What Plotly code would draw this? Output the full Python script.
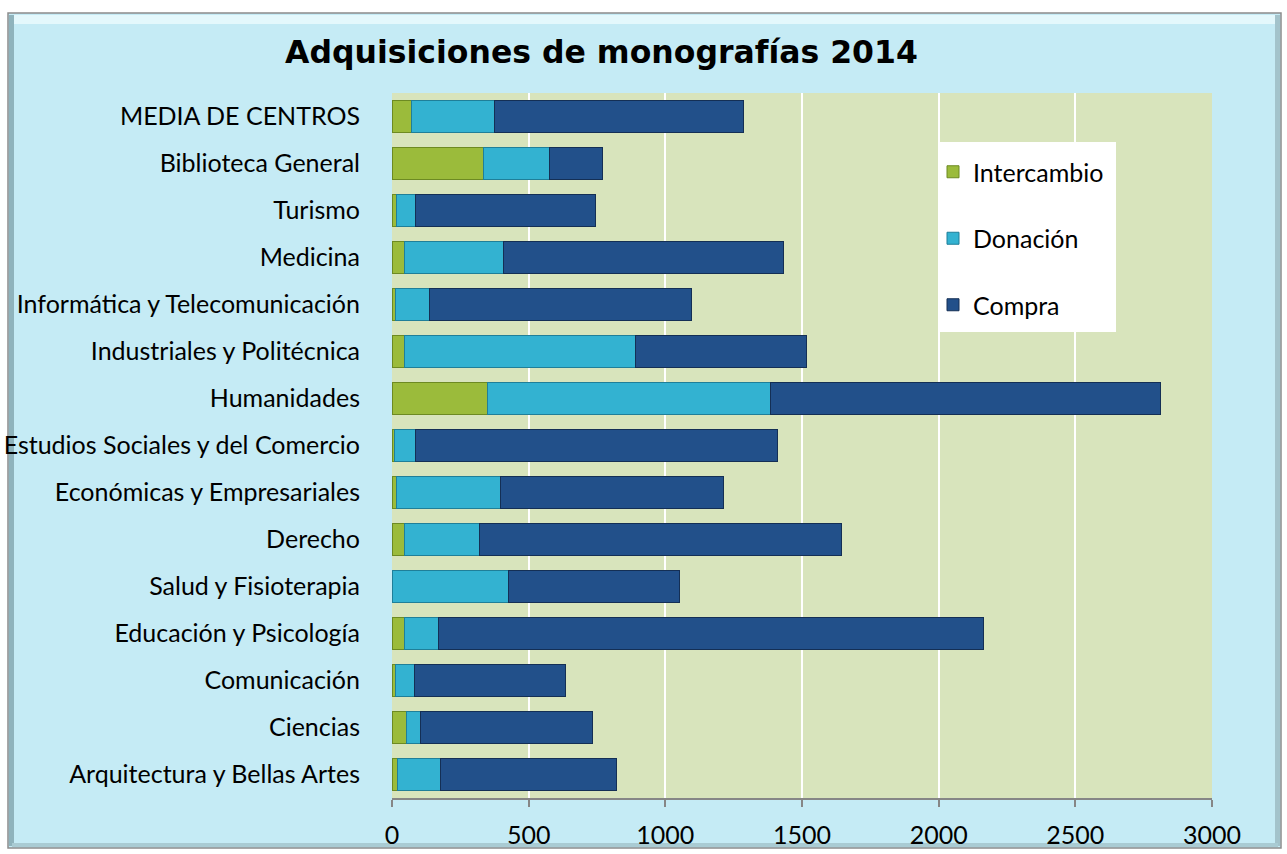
import plotly.graph_objects as go

# ---- data (bottom row first, as plotly draws categories bottom-up) ----
categories = [
    "Arquitectura y Bellas Artes",
    "Ciencias",
    "Comunicación",
    "Educación y Psicología",
    "Salud y Fisioterapia",
    "Derecho",
    "Económicas y Empresariales",
    "Estudios Sociales y del Comercio",
    "Humanidades",
    "Industriales y Politécnica",
    "Informática y Telecomunicación",
    "Medicina",
    "Turismo",
    "Biblioteca General",
    "MEDIA DE CENTROS",
]
intercambio = [19, 52, 13, 44, 0, 44, 17, 10, 349, 44, 13, 44, 15, 334, 72]
donacion = [159, 54, 71, 127, 426, 276, 381, 77, 1035, 846, 124, 363, 72, 243, 302]
compra = [644, 626, 551, 1992, 625, 1323, 815, 1323, 1429, 625, 958, 1025, 658, 194, 911]
x_ticks = [0, 500, 1000, 1500, 2000, 2500, 3000]
title_text = "Adquisiciones de monografías 2014"

# ---- geometry helpers (plot area in pixels) ----
W, H = 1287, 854
PL, PR, PT, PB = 392, 1212, 93, 798


def px(x):
    return (x - PL) / (PR - PL)


def py(y):
    return (PB - y) / (PB - PT)


FONT = "Lato, 'Open Sans', sans-serif"
FS = 25

series = [
    ("Intercambio", intercambio, "#9bbb3b", "#6d8a22"),
    ("Donación", donacion, "#33b2d1", "#1f7f99"),
    ("Compra", compra, "#22508a", "#142f55"),
]

fig = go.Figure()
for name, vals, color, line in series:
    fig.add_trace(
        go.Bar(
            y=categories,
            x=vals,
            orientation="h",
            name=name,
            legendgroup=name,
            marker=dict(color=color, line=dict(color=line, width=1)),
        )
    )

shapes = [
    # outer chart box
    dict(type="rect", xref="paper", yref="paper", layer="below",
         x0=px(8), x1=px(1281), y0=py(848), y1=py(13),
         fillcolor="#c5ebf5", line=dict(color="#8c8c8c", width=1.5)),
    # bevel highlight top
    dict(type="rect", xref="paper", yref="paper", layer="below",
         x0=px(12), x1=px(1276), y0=py(24), y1=py(15),
         fillcolor="#e4f8fc", line=dict(width=0)),
    # bevel shade left
    dict(type="rect", xref="paper", yref="paper", layer="below",
         x0=px(9), x1=px(14), y0=py(846), y1=py(15),
         fillcolor="#8fb3bc", line=dict(width=0)),
    # bevel shade right
    dict(type="rect", xref="paper", yref="paper", layer="below",
         x0=px(1275), x1=px(1280), y0=py(846), y1=py(15),
         fillcolor="#a3c3cb", line=dict(width=0)),
    # bevel shade bottom
    dict(type="rect", xref="paper", yref="paper", layer="below",
         x0=px(12), x1=px(1278), y0=py(847), y1=py(843),
         fillcolor="#a9cbd3", line=dict(width=0)),
    # plot area
    dict(type="rect", xref="paper", yref="paper", layer="below",
         x0=0, x1=1, y0=0, y1=1,
         fillcolor="#d8e4bc", line=dict(width=0)),
    # legend box
    dict(type="rect", xref="paper", yref="paper", layer="above",
         x0=px(940), x1=px(1116), y0=py(332), y1=py(142),
         fillcolor="#ffffff", line=dict(width=0)),
]

fig.update_layout(
    width=W,
    height=H,
    autosize=False,
    margin=dict(l=PL, r=W - PR, t=PT, b=H - PB, pad=0, autoexpand=False),
    paper_bgcolor="#ffffff",
    plot_bgcolor="rgba(0,0,0,0)",
    barmode="stack",
    bargap=0.3,
    font=dict(family=FONT, size=FS, color="#000000"),
    title=dict(
        text=title_text,
        font=dict(family="'DejaVu Sans', 'Liberation Sans', sans-serif", size=31.5,
                  color="#000000", weight="bold"),
        xref="container", x=601.5 / W, xanchor="center",
        yref="container", y=1 - 52 / H, yanchor="middle",
    ),
    xaxis=dict(
        range=[0, 3000],
        tickvals=x_ticks,
        ticktext=[str(v) for v in x_ticks],
        showgrid=True,
        gridcolor="#ffffff",
        gridwidth=2,
        zeroline=False,
        showline=True,
        linecolor="#868686",
        linewidth=1.5,
        ticks="outside",
        ticklen=7,
        tickcolor="#868686",
        tickwidth=1.5,
        ticklabelstandoff=7,
        tickfont=dict(family=FONT, size=FS, color="#000000"),
        automargin=False,
        fixedrange=True,
    ),
    yaxis=dict(
        type="category",
        showgrid=False,
        zeroline=False,
        showline=False,
        ticks="outside",
        ticklen=26,
        tickcolor="rgba(0,0,0,0)",
        tickfont=dict(family=FONT, size=FS, color="#000000"),
        automargin=False,
        fixedrange=True,
    ),
    legend=dict(
        x=px(933), xanchor="left",
        y=py(149), yanchor="top",
        bgcolor="rgba(0,0,0,0)",
        borderwidth=0,
        traceorder="grouped",
        tracegroupgap=31,
        font=dict(family=FONT, size=FS, color="#000000"),
    ),
    shapes=shapes,
)

fig.write_html(
    "out.html",
    config={"displayModeBar": False},
    post_script="document.body.style.margin='0';",
)
